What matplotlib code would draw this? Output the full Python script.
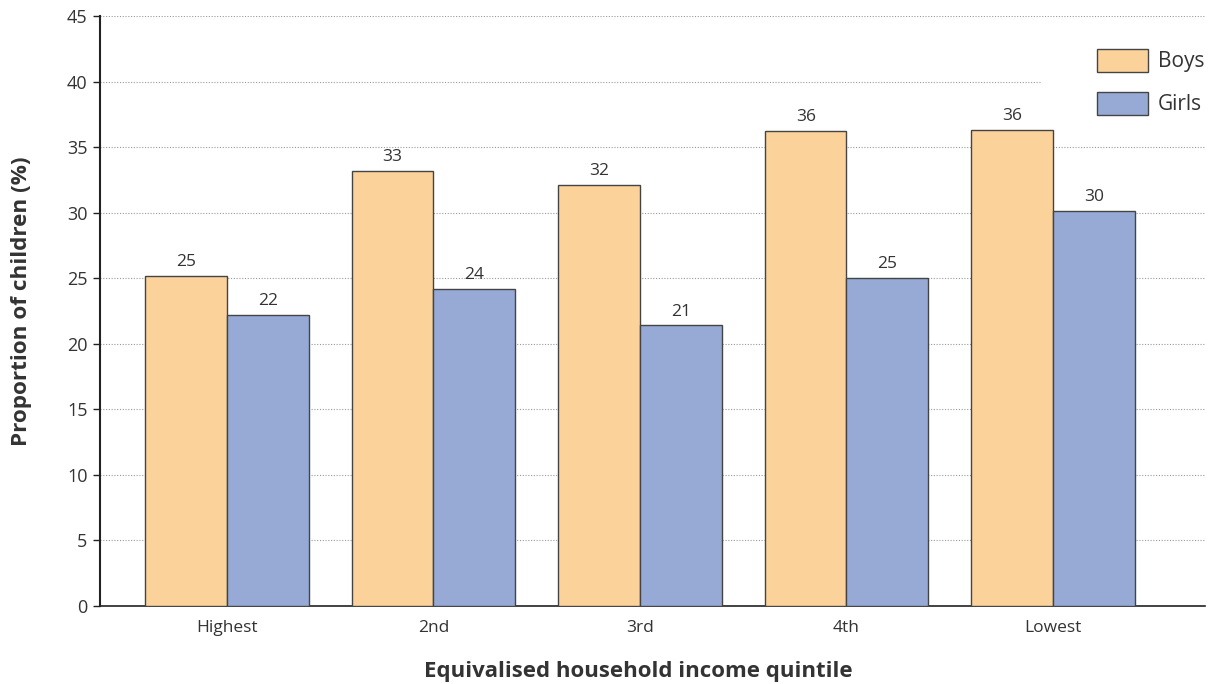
import numpy as np
import matplotlib.pyplot as plt
from matplotlib.patches import Rectangle

# Data
quintiles = ["Highest", "2nd", "3rd", "4th", "Lowest"]
boys = [25.2, 33.2, 32.1, 36.2, 36.3]
girls = [22.2, 24.2, 21.4, 25.0, 30.1]
boys_labels = ["25", "33", "32", "36", "36"]
girls_labels = ["22", "24", "21", "25", "30"]

plt.rcParams['font.family'] = ['Open Sans', 'DejaVu Sans']
txt = '#333333'

fig = plt.figure(figsize=(12.19, 6.84), dpi=100)
ax = fig.add_axes([0.082, 0.114, 0.9065, 0.8626])

x = np.arange(len(quintiles))
w = 0.395
b1 = ax.bar(x - w/2, boys, w, color='#FCD29B', edgecolor='#444444', linewidth=1, label='Boys', zorder=3)
b2 = ax.bar(x + w/2, girls, w, color='#97AAD5', edgecolor='#444444', linewidth=1, label='Girls', zorder=3)

for rect, lab in zip(b1, boys_labels):
    ax.text(rect.get_x() + rect.get_width()/2, rect.get_height() + 0.45, lab,
            ha='center', va='bottom', fontsize=12.5, color=txt)
for rect, lab in zip(b2, girls_labels):
    ax.text(rect.get_x() + rect.get_width()/2, rect.get_height() + 0.45, lab,
            ha='center', va='bottom', fontsize=12.5, color=txt)

ax.set_xlim(-0.615, 4.736)
ax.set_ylim(0, 45)
ax.set_yticks(range(0, 46, 5))
ax.set_xticks(x)
ax.set_xticklabels(quintiles)
ax.tick_params(axis='x', length=0, pad=10, labelsize=12.5, labelcolor=txt)
ax.tick_params(axis='y', length=5, width=1, color='#222222', pad=4, labelsize=13, labelcolor=txt)

ax.yaxis.grid(True, linestyle=(0, (1, 1.5)), color='#999999', linewidth=0.8)
ax.set_axisbelow(True)

# white area behind the legend hides the grid line there
ax.add_patch(Rectangle((0.8525, 36.8), 0.15, 6.5, transform=ax.get_yaxis_transform(),
                       facecolor='white', edgecolor='none', zorder=1))

for s in ['top', 'right']:
    ax.spines[s].set_visible(False)
ax.spines['left'].set_linewidth(1.5)
ax.spines['left'].set_color('#222222')
ax.spines['bottom'].set_linewidth(1.2)
ax.spines['bottom'].set_color('#222222')

fig.text(638/1219, 1 - 672/684, "Equivalised household income quintile", fontsize=16,
         fontweight='bold', color=txt, ha='center', va='center')
fig.text(22/1219, 1 - 301/684, "Proportion of children (%)", fontsize=16.2,
         fontweight='bold', color=txt, ha='center', va='center', rotation=90)

leg = ax.legend(loc='upper right', bbox_to_anchor=(1.009, 0.962), frameon=False, fontsize=15,
                handlelength=2.45, handleheight=1.3, labelspacing=0.95, handletextpad=0.5,
                borderpad=0.5, borderaxespad=0.0)
for t in leg.get_texts():
    t.set_color(txt)

plt.savefig('out.png', dpi=100)
